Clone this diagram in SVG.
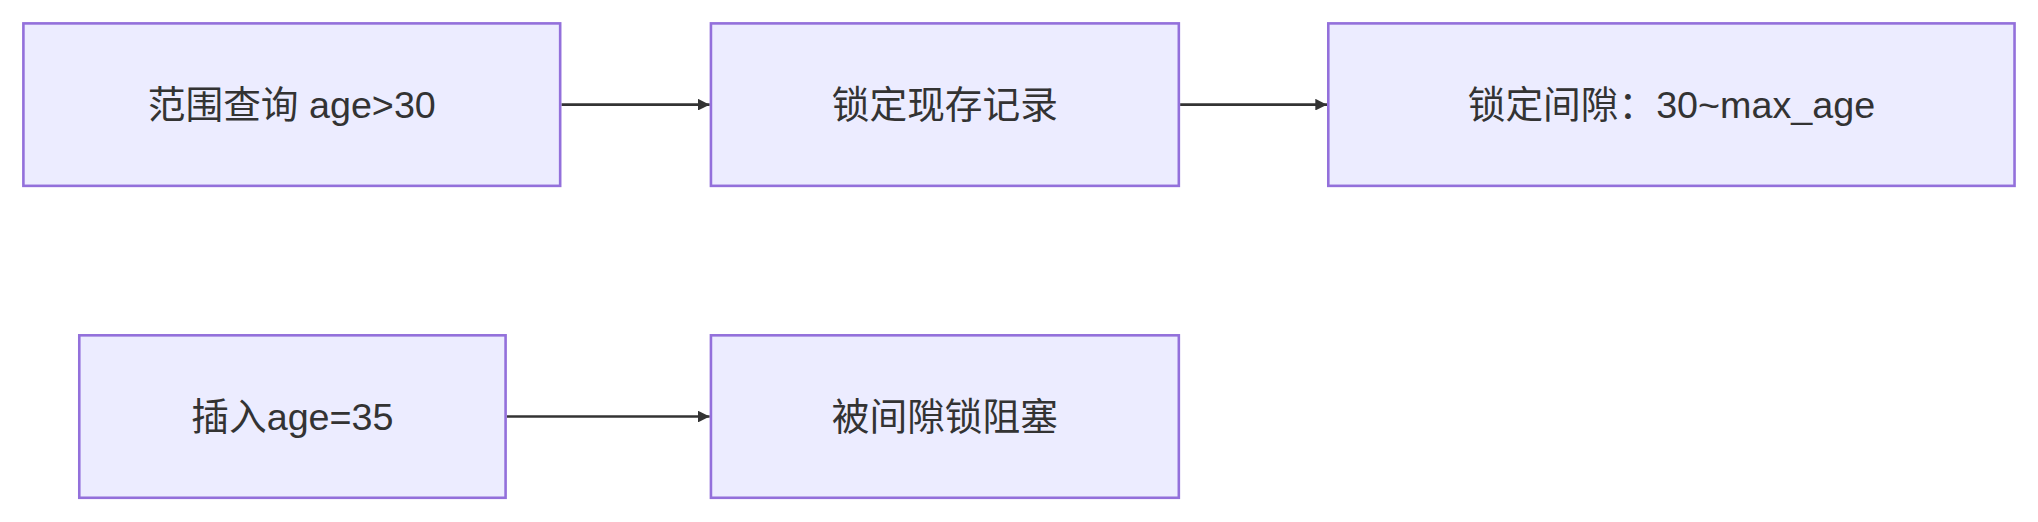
<svg xmlns="http://www.w3.org/2000/svg" width="2038" height="522" viewBox="0 0 2038 522">
<style>
.n{fill:#ECECFF;stroke:#9370DB;stroke-width:2}
.t{font-family:"Liberation Sans","Noto Sans CJK SC",sans-serif;font-size:29px;fill:#333;text-anchor:middle;dominant-baseline:central}
.e{stroke:#333;stroke-width:2;fill:none}
</style>
<defs><marker id="a" viewBox="0 0 10 10" refX="10" refY="5" markerWidth="9" markerHeight="9" markerUnits="userSpaceOnUse" orient="auto"><path d="M0,0L10,5L0,10z" fill="#333"/></marker></defs>
<rect width="2038" height="522" fill="#fff"/>
<g transform="scale(1.2997)">
<g id="edges">
<path class="e" d="M432,80.5H546" marker-end="url(#a)"/>
<path class="e" d="M908,80.5H1021" marker-end="url(#a)"/>
<path class="e" d="M390,320.5H546" marker-end="url(#a)"/>
</g>
<g id="n1"><rect class="n" x="18" y="18" width="413" height="125"/><text class="t" x="224.5" y="80.5">范围查询 age&gt;30</text></g>
<g id="n2"><rect class="n" x="547" y="18" width="360" height="125"/><text class="t" x="727" y="80.5">锁定现存记录</text></g>
<g id="n3"><rect class="n" x="1022" y="18" width="528" height="125"/><text class="t" x="1286" y="80.5">锁定间隙：30~max_age</text></g>
<g id="n4"><rect class="n" x="61" y="258" width="328" height="125"/><text class="t" x="225" y="320.5">插入age=35</text></g>
<g id="n5"><rect class="n" x="547" y="258" width="360" height="125"/><text class="t" x="727" y="320.5">被间隙锁阻塞</text></g>
</g>
</svg>
